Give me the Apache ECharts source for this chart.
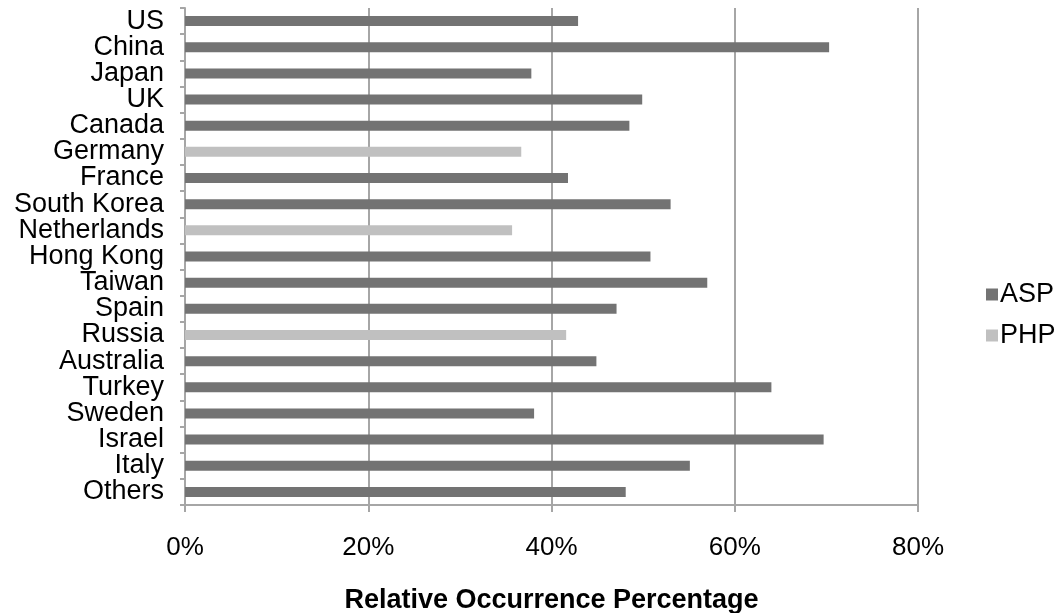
<!DOCTYPE html>
<html>
<head>
<meta charset="utf-8">
<script src="https://cdn.jsdelivr.net/npm/echarts@6/dist/echarts.min.js"></script>
<style>
html,body{margin:0;padding:0;background:#fff;}
#chart{width:1060px;height:613px;}
</style>
</head>
<body>
<div id="chart"></div>
<script>
const categories = ["US","China","Japan","UK","Canada","Germany","France","South Korea","Netherlands","Hong Kong","Taiwan","Spain","Russia","Australia","Turkey","Sweden","Israel","Italy","Others"];
const aspValues = [42.9, 70.3, 37.8, 49.9, 48.5, null, 41.8, 53.0, null, 50.8, 57.0, 47.1, null, 44.9, 64.0, 38.1, 69.7, 55.1, 48.1];
const phpValues = [null, null, null, null, null, 36.7, null, null, 35.7, null, null, null, 41.6, null, null, null, null, null, null];
const xTicks = [0, 20, 40, 60, 80];

const FONT = '"Liberation Sans", Arial, Helvetica, sans-serif';
const chart = echarts.init(document.getElementById('chart'), null, {renderer: 'canvas'});
chart.setOption({
  animation: false,
  backgroundColor: '#ffffff',
  textStyle: {fontFamily: FONT},
  grid: {left: 185, right: 142, top: 8, bottom: 108, containLabel: false, outerBoundsMode: 'none'},
  legend: {
    orient: 'vertical',
    left: 981,
    top: 276,
    itemWidth: 12,
    itemHeight: 12,
    itemGap: 14,
    icon: 'rect',
    textStyle: {fontSize: 27, color: '#000', fontFamily: FONT, padding: [0, 0, 0, -3]},
    data: ['ASP', 'PHP']
  },
  xAxis: {
    type: 'value',
    min: xTicks[0],
    max: xTicks[xTicks.length - 1],
    interval: 20,
    name: 'Relative Occurrence Percentage',
    nameLocation: 'middle',
    nameGap: 82,
    nameTextStyle: {fontSize: 27, fontWeight: 'bold', color: '#000', fontFamily: FONT},
    axisLine: {show: true, lineStyle: {color: '#a6a6a6', width: 2}},
    axisTick: {show: true, length: 7, lineStyle: {color: '#a6a6a6', width: 2}},
    axisLabel: {fontSize: 26, color: '#000', margin: 30, fontFamily: FONT, formatter: v => v + '%'},
    splitLine: {show: true, lineStyle: {color: '#a6a6a6', width: 2}}
  },
  yAxis: {
    type: 'category',
    inverse: true,
    data: categories,
    axisLine: {show: true, lineStyle: {color: '#a6a6a6', width: 2}},
    axisTick: {show: true, length: 5, alignWithLabel: false, lineStyle: {color: '#a6a6a6', width: 2}},
    axisLabel: {fontSize: 27, color: '#000', margin: 21, fontFamily: FONT, interval: 0},
    splitLine: {show: false}
  },
  series: [
    {
      name: 'ASP', type: 'bar', data: aspValues, barWidth: 10, barGap: '-100%',
      itemStyle: {color: '#737373'}
    },
    {
      name: 'PHP', type: 'bar', data: phpValues, barWidth: 10, barGap: '-100%',
      itemStyle: {color: '#c0c0c0'}
    }
  ]
});
</script>
</body>
</html>
